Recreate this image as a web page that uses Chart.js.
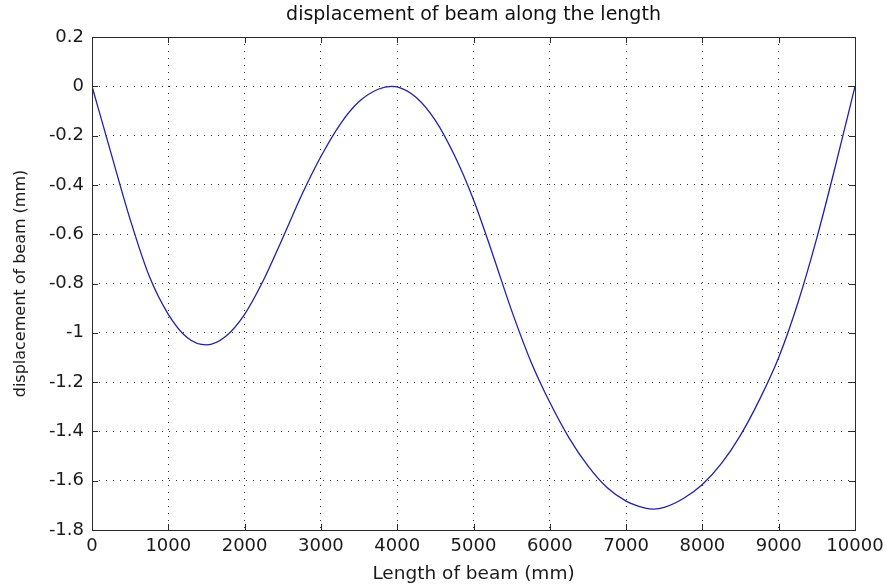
<!DOCTYPE html>
<html>
<head>
<meta charset="utf-8">
<title>displacement of beam along the length</title>
<script src="https://cdn.jsdelivr.net/npm/chart.js@4/dist/chart.umd.min.js"></script>
<style>
  html, body { margin: 0; padding: 0; background: #ffffff; }
  canvas { display: block; }
</style>
</head>
<body>
<canvas id="beam-chart" width="886" height="585"></canvas>
<script>
/*==== data ====*/
const beamLength = [
    0, 250, 500, 750, 1000, 1250, 1500, 1750, 2000, 2250, 2500, 2750,
    3000, 3250, 3500, 3750, 3927, 4000, 4250, 4500, 4750, 5000, 5250,
    5500, 5750, 6000, 6250, 6500, 6750, 7000, 7250, 7360, 7500, 7750,
    8000, 8250, 8500, 8750, 9000, 9250, 9500, 9750, 10000
];
const beamDisplacement = [
    0, -0.272, -0.54, -0.77, -0.925, -1.02, -1.049, -1.015, -0.925, -0.785, -0.615, -0.44,
    -0.285, -0.155, -0.062, -0.012, 0, -0.002, -0.045, -0.138, -0.28, -0.46, -0.68,
    -0.91, -1.115, -1.282, -1.425, -1.54, -1.628, -1.683, -1.711, -1.715, -1.708, -1.672,
    -1.615, -1.53, -1.415, -1.27, -1.1, -0.88, -0.615, -0.315, 0
];

const chartTitle = 'displacement of beam along the length';
const xAxisTitle = 'Length of beam (mm)';
const yAxisTitle = 'displacement of beam (mm)';

const fontFamily = '"DejaVu Sans", "Liberation Sans", Arial, sans-serif';

/*==== matlab style box + inner ticks ====*/
const matlabBox = {
    id: 'matlabBox',
    afterDraw: function(chart) {
        var ctx = chart.ctx;
        var area = chart.chartArea;
        var xs = chart.scales.x, ys = chart.scales.y;
        var tickLen = 6;
        ctx.save();
        ctx.strokeStyle = '#2a2a2a';
        ctx.lineWidth = 1;
        ctx.beginPath();
        xs.ticks.forEach(function(t) {
            var px = Math.round(xs.getPixelForValue(t.value)) + 0.5;
            ctx.moveTo(px, area.bottom);
            ctx.lineTo(px, area.bottom - tickLen);
            ctx.moveTo(px, area.top);
            ctx.lineTo(px, area.top + tickLen);
        });
        ys.ticks.forEach(function(t) {
            var py = Math.round(ys.getPixelForValue(t.value)) + 0.5;
            ctx.moveTo(area.left, py);
            ctx.lineTo(area.left + tickLen, py);
            ctx.moveTo(area.right, py);
            ctx.lineTo(area.right - tickLen, py);
        });
        ctx.stroke();
        ctx.strokeRect(Math.round(area.left) + 0.5, Math.round(area.top) + 0.5,
            Math.round(area.right - area.left), Math.round(area.bottom - area.top));
        ctx.restore();
    }
};

/*==== setup ====*/
const data_beam = {
    datasets: [
        {
            label: 'displacement',
            data: beamLength.map(function(x, i) {
                return { x: x, y: beamDisplacement[i] };
            }),
            borderColor: '#1f1fb4',
            borderWidth: 1.3,
            pointRadius: 0,
            cubicInterpolationMode: 'monotone',
            fill: false
        }
    ]
};

const gridStyle = {
    color: 'rgba(0, 0, 0, 0.8)',
    lineWidth: 1,
    drawTicks: false
};

/*=== config ====*/
const config_beam = {
    type: 'line',
    data: data_beam,
    options: {
        responsive: false,
        animation: false,
        devicePixelRatio: 1,
        layout: {
            padding: { left: 0, right: 31, top: 0, bottom: 0 }
        },
        plugins: {
            legend: { display: false },
            tooltip: { enabled: false },
            title: {
                display: true,
                text: chartTitle,
                fullSize: false,
                color: '#111',
                font: { family: fontFamily, size: 19, weight: 'normal' },
                padding: { top: 4, bottom: 10.2 }
            }
        },
        scales: {
            x: {
                type: 'linear',
                min: 0,
                max: 10000,
                afterFit: function(scale) {
                    scale.height = 55;
                    scale.paddingLeft = 0;
                    scale.paddingRight = 0;
                },
                ticks: {
                    stepSize: 1000,
                    padding: 6,
                    maxRotation: 0,
                    color: '#1a1a1a',
                    font: { family: fontFamily, size: 18 },
                    callback: function(v) { return String(v); }
                },
                grid: gridStyle,
                border: { display: false, dash: [1, 6] },
                title: {
                    display: true,
                    text: xAxisTitle,
                    color: '#1a1a1a',
                    font: { family: fontFamily, size: 18.5 },
                    padding: { top: 0, bottom: 0 }
                }
            },
            y: {
                type: 'linear',
                min: -1.8,
                max: 0.2,
                afterFit: function(scale) { scale.width = 92; },
                ticks: {
                    stepSize: 0.2,
                    padding: 8,
                    color: '#1a1a1a',
                    font: { family: fontFamily, size: 18 },
                    callback: function(v) { return String(Number(v.toFixed(1))); }
                },
                grid: gridStyle,
                border: { display: false, dash: [1, 6] },
                title: {
                    display: true,
                    text: yAxisTitle,
                    color: '#1a1a1a',
                    font: { family: fontFamily, size: 16 },
                    padding: { top: 11, bottom: 0 }
                }
            }
        }
    },
    plugins: [matlabBox]
};

/*===== render graphic =====*/
var beamChart = new Chart(document.getElementById('beam-chart'), config_beam);
</script>
</body>
</html>
